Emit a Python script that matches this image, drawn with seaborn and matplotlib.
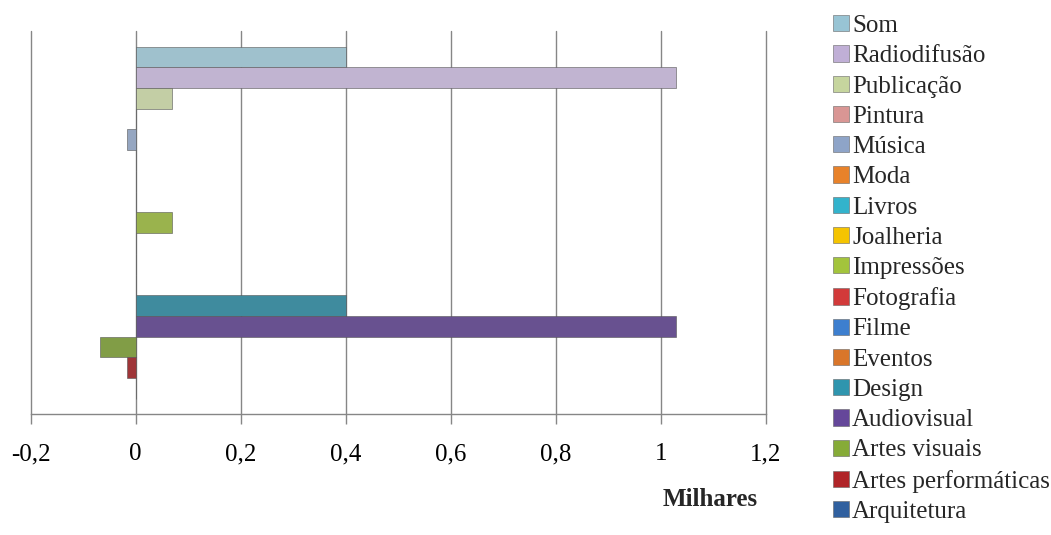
import matplotlib
matplotlib.use("Agg")
import matplotlib.pyplot as plt
import matplotlib.patches as mpatches
import pandas as pd
import seaborn as sns

# setores, de cima para baixo (ordem da legenda)
setores = ['Som', 'Radiodifusão', 'Publicação', 'Pintura', 'Música', 'Moda', 'Livros',
           'Joalheria', 'Impressões', 'Fotografia', 'Filme', 'Eventos', 'Design',
           'Audiovisual', 'Artes visuais', 'Artes performáticas', 'Arquitetura']
valores = [0.40, 1.03, 0.07, 0.0, -0.017, 0.0, 0.0,
           0.0, 0.07, 0.0, 0.0, 0.0, 0.40,
           1.03, -0.068, -0.017, 0.0]
cores_barra = ['#98c4d4', '#c0afd6', '#c6d59e', '#d99694', '#8ea4c8', '#e8822a', '#33b3cc',
               '#f5c400', '#a3c43c', '#d23a3a', '#3d7fcf', '#d9762a', '#2f95ae',
               '#65479a', '#86ab38', '#b02428', '#30609f']
x_ticks = [-0.2, 0.0, 0.2, 0.4, 0.6, 0.8, 1.0, 1.2]
x_labels = ['-0,2', '0', '0,2', '0,4', '0,6', '0,8', '1', '1,2']

sns.set_theme(style="white")
plt.rcParams['font.family'] = ['Liberation Serif', 'DejaVu Serif']
plt.rcParams['font.size'] = 18

df = pd.DataFrame({'setor': setores, 'valor': valores})
paleta = dict(zip(setores, cores_barra))

fig = plt.figure(figsize=(10.51, 5.35), dpi=100)
ax = fig.add_axes([30.7 / 1051, 1 - 414.3 / 535, 735 / 1051, 383.3 / 535])

sns.barplot(data=df, x='valor', y='setor', hue='setor', palette=paleta, order=setores,
            hue_order=setores, orient='h', width=1.0, legend=False, ax=ax,
            edgecolor='#555555', linewidth=0.4)

ax.set_xlim(-0.2, 1.2)
ax.set_ylim(len(setores) - 0.5 + 0.74, -0.5 - 0.75)
ax.set_xticks(x_ticks)
ax.set_xticklabels(x_labels, fontsize=18)
ax.set_yticks([])
ax.set_xlabel('')
ax.set_ylabel('')
ax.grid(axis='x', color='#868686', linewidth=1.0)
for linha in ax.xaxis.get_gridlines():
    linha.set_clip_on(False)
ax.set_axisbelow(True)
for lado in ['left', 'right', 'top']:
    ax.spines[lado].set_visible(False)
ax.spines['bottom'].set_color('#868686')
ax.spines['bottom'].set_linewidth(1.0)
ax.tick_params(axis='x', direction='out', length=7, width=1.0, color='#868686',
               pad=14, bottom=True, labelcolor='black')

fig.text(710 / 1051, 1 - 499 / 535, 'Milhares', ha='center', va='center',
         fontsize=18, fontweight='bold')

alcas = [mpatches.Patch(facecolor=c, edgecolor='#666666', linewidth=0.4) for c in cores_barra]
fig.legend(alcas, setores, loc='upper left', bbox_to_anchor=(833 / 1051, 1 - 15 / 535),
           frameon=False, fontsize=18, handlelength=0.62, handleheight=0.62,
           handletextpad=0.15, labelspacing=0.33, borderpad=0, borderaxespad=0)

fig.savefig('out.png', dpi=100)
